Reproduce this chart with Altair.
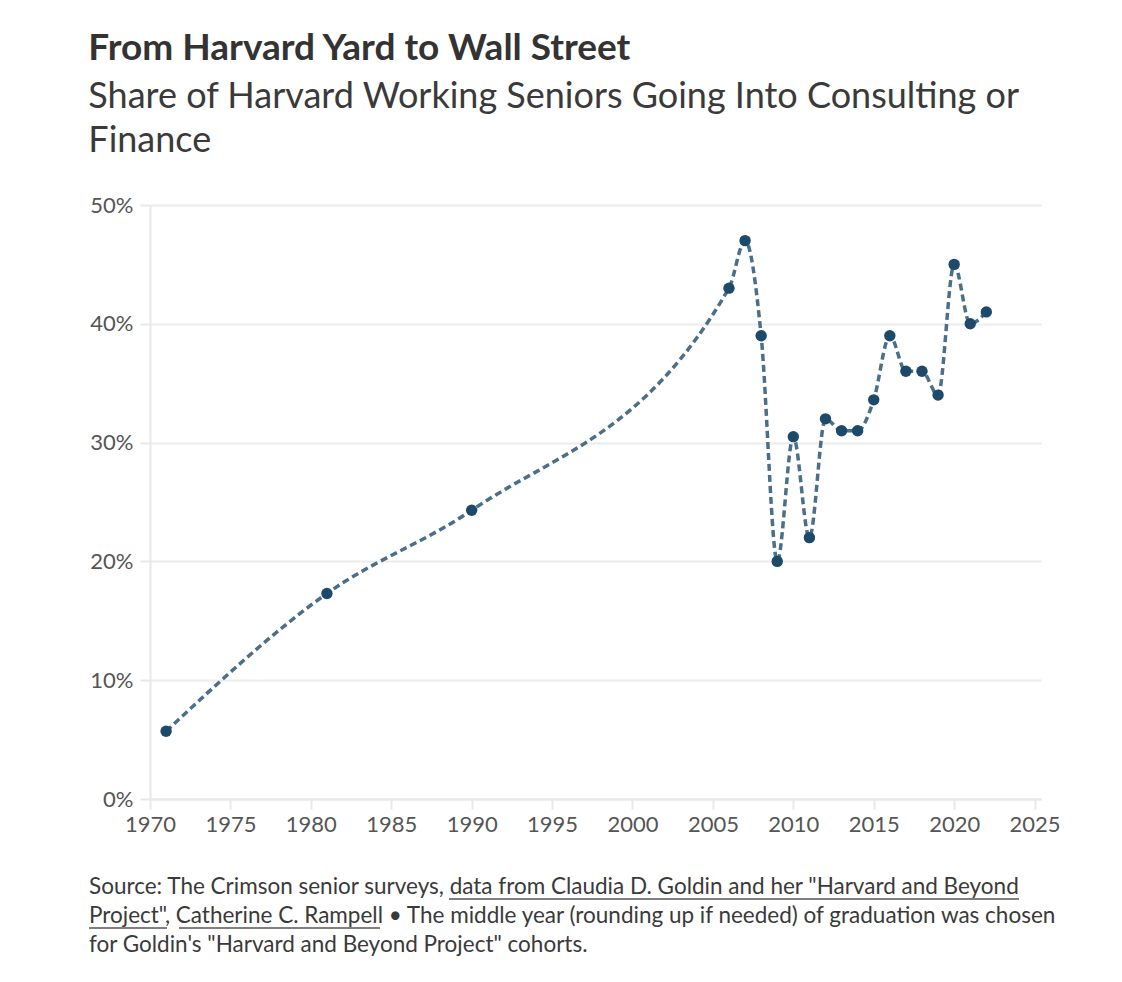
import altair as alt
import pandas as pd

years = [1971, 1981, 1990, 2006, 2007, 2008, 2009, 2010, 2011, 2012,
         2013, 2014, 2015, 2016, 2017, 2018, 2019, 2020, 2021, 2022]
share = [5.7, 17.3, 24.3, 43.0, 47.0, 39.0, 20.0, 30.5, 22.0, 32.0,
         31.0, 31.0, 33.6, 39.0, 36.0, 36.0, 34.0, 45.0, 40.0, 41.0]
x_ticks = [1970, 1975, 1980, 1985, 1990, 1995, 2000, 2005, 2010, 2015, 2020, 2025]
y_ticks = [0, 10, 20, 30, 40, 50]

title = "From Harvard Yard to Wall Street"
subtitle = ["Share of Harvard Working Seniors Going Into Consulting or", "Finance"]
footer = [
    'Source: The Crimson senior surveys, data from Claudia D. Goldin and her "Harvard and Beyond',
    'Project", Catherine C. Rampell \u2022 The middle year (rounding up if needed) of graduation was chosen',
    'for Goldin\'s "Harvard and Beyond Project" cohorts.',
]

FONT = "Lato"
W, H = 891, 594
NOTE_Y = H + 88      # centre of the first footer line, in plot pixels
NOTE_LH = 29

df = pd.DataFrame({"year": years, "share": share})

x = alt.X("year:Q", scale=alt.Scale(domain=[1970, 2025.4], nice=False),
          axis=alt.Axis(values=x_ticks, format="d", title=None, grid=False,
                        labelFlush=False))
y = alt.Y("share:Q", scale=alt.Scale(domain=[0, 50], nice=False),
          axis=alt.Axis(values=y_ticks, labelExpr="datum.value + '%'", title=None))

base = alt.Chart(df).encode(x=x, y=y)

line = base.mark_line(interpolate="monotone", color="#4b6f88",
                      strokeWidth=3.5, strokeDash=[7, 4])
points = base.mark_circle(size=130, color="#1d4a69", opacity=1)

note = alt.Chart(alt.Data(values=[{}])).mark_text(
    align="left", baseline="middle", font=FONT, fontSize=22.5,
    color="#3a3a3a", lineHeight=NOTE_LH
).encode(x=alt.value(-61), y=alt.value(NOTE_Y), text=alt.value(footer))

# underlines for the linked parts of the source note (pixel positions)
links = pd.DataFrame({
    "x0": [299, -61, 29],
    "x1": [869, 17, 230],
    "y0": [NOTE_Y + 12, NOTE_Y + NOTE_LH + 12, NOTE_Y + NOTE_LH + 12],
})
underline = alt.Chart(links).mark_rule(color="#555555", strokeWidth=1.3).encode(
    x=alt.X("x0:Q", scale=None), x2="x1:Q", y=alt.Y("y0:Q", scale=None)
)

chart = (line + points + note + underline).properties(
    width=W, height=H,
    padding={"left": 80, "top": 22, "right": 20, "bottom": 20},
    title=alt.TitleParams(
        text=title, subtitle=subtitle, anchor="start", frame="bounds",
        font=FONT, fontSize=37, fontWeight="bold", color="#333333",
        subtitleFont=FONT, subtitleFontSize=36, subtitleColor="#3a3a3a",
        subtitleLineHeight=44, subtitlePadding=12, offset=34,
    ),
).configure_view(stroke=None).configure_axis(
    labelFont=FONT, labelFontSize=22, labelColor="#555555",
    domainColor="#e8e8e8", domainWidth=2, tickColor="#e8e8e8", tickWidth=2,
    tickSize=10, labelPadding=5, gridColor="#ececec", gridWidth=2,
).configure_axisY(labelPadding=7)

chart.save("out.html", embed_options={"renderer": "svg", "actions": False})
